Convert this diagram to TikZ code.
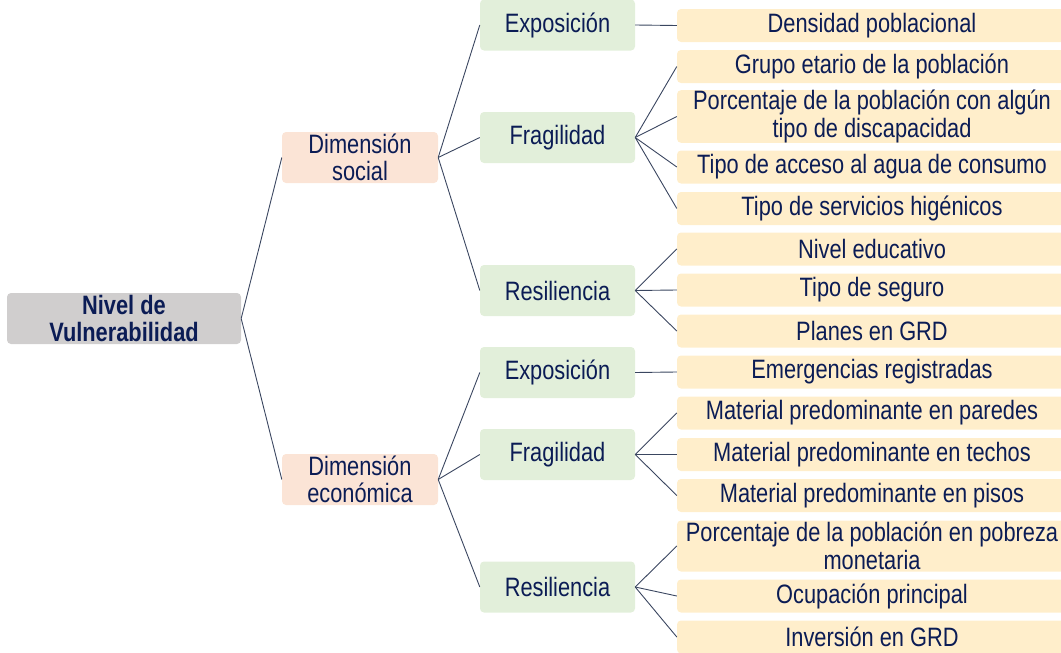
\documentclass[tikz,border=0pt]{standalone}
\usepackage{fontspec}
\setmainfont[FakeStretch=0.82]{Liberation Sans}
\usepackage{tikz}
\usetikzlibrary{positioning}
\definecolor{VulnNavy}{HTML}{0B1C55}
\definecolor{VulnGrey}{HTML}{D0CECE}
\definecolor{VulnPeach}{HTML}{FBE4D6}
\definecolor{VulnGreen}{HTML}{E2EFDA}
\definecolor{VulnBeige}{HTML}{FFEECB}
\definecolor{VulnLine}{HTML}{3A4660}
\tikzset{
    % Base node style
    basenode/.style={
        rounded corners=4pt,
        inner sep=0pt,
        align=center,
        text=VulnNavy,
        font=\fontsize{26.6}{27.5}\selectfont
    },
    % Root node
    rootnode/.style={
        basenode,
        fill=VulnGrey,
        minimum width=234pt,
        minimum height=51pt,
        font=\fontsize{26.6}{27.5}\selectfont\bfseries
    },
    % Dimension node
    dimnode/.style={
        basenode,
        fill=VulnPeach,
        minimum width=156pt,
        minimum height=51pt
    },
    % Component node
    compnode/.style={
        basenode,
        fill=VulnGreen,
        minimum width=155pt,
        minimum height=51pt
    },
    % Indicator node
    indnode/.style={
        basenode,
        fill=VulnBeige,
        minimum width=390pt,
        minimum height=33pt
    },
    % Connector
    link/.style={
        draw=VulnLine,
        line width=0.9pt
    }
}
\begin{document}
\begin{tikzpicture}[x=1pt, y=-1pt]
    \useasboundingbox (0,0) rectangle (1061,653);

    % Root
    \node[rootnode] (root) at (124,318.5) {Nivel de\\Vulnerabilidad};

    % Dimensions
    \node[dimnode] (dsoc) at (360,157.5) {Dimensión\\social};
    \node[dimnode] (deco) at (360,479.5) {Dimensión\\económica};

    % Components, social
    \node[compnode] (sexp) at (557.5,25) {Exposición};
    \node[compnode] (sfra) at (557.5,137.5) {Fragilidad};
    \node[compnode] (sres) at (557.5,290.5) {Resiliencia};

    % Components, economic
    \node[compnode] (eexp) at (557.5,372.5) {Exposición};
    \node[compnode] (efra) at (557.5,454.5) {Fragilidad};
    \node[compnode] (eres) at (557.5,587) {Resiliencia};

    % Indicators, social
    \node[indnode] (i1) at (872,25.5) {Densidad poblacional};
    \node[indnode] (i2) at (872,66.5) {Grupo etario de la población};
    \node[indnode, minimum height=51pt] (i3) at (872,116.5) {Porcentaje de la población con algún\\tipo de discapacidad};
    \node[indnode] (i4) at (872,167) {Tipo de acceso al agua de consumo};
    \node[indnode] (i5) at (872,208.5) {Tipo de servicios higénicos};
    \node[indnode] (i6) at (872,249) {Nivel educativo};
    \node[indnode] (i7) at (872,290) {Tipo de seguro};
    \node[indnode] (i8) at (872,331) {Planes en GRD};

    % Indicators, economic
    \node[indnode] (i9) at (872,372) {Emergencias registradas};
    \node[indnode] (i10) at (872,413) {Material predominante en paredes};
    \node[indnode] (i11) at (872,454.5) {Material predominante en techos};
    \node[indnode] (i12) at (872,495.5) {Material predominante en pisos};
    \node[indnode, minimum height=51pt] (i13) at (872,546) {Porcentaje de la población en pobreza\\monetaria};
    \node[indnode] (i14) at (872,596) {Ocupación principal};
    \node[indnode] (i15) at (872,637) {Inversión en GRD};

    % Connectors
    \draw[link] (root.east) -- (dsoc.west);
    \draw[link] (root.east) -- (deco.west);
    \draw[link] (dsoc.east) -- (sexp.west);
    \draw[link] (dsoc.east) -- (sfra.west);
    \draw[link] (dsoc.east) -- (sres.west);
    \draw[link] (deco.east) -- (eexp.west);
    \draw[link] (deco.east) -- (efra.west);
    \draw[link] (deco.east) -- (eres.west);
    \draw[link] (sexp.east) -- (i1.west);
    \draw[link] (sfra.east) -- (i2.west);
    \draw[link] (sfra.east) -- (i3.west);
    \draw[link] (sfra.east) -- (i4.west);
    \draw[link] (sfra.east) -- (i5.west);
    \draw[link] (sres.east) -- (i6.west);
    \draw[link] (sres.east) -- (i7.west);
    \draw[link] (sres.east) -- (i8.west);
    \draw[link] (eexp.east) -- (i9.west);
    \draw[link] (efra.east) -- (i10.west);
    \draw[link] (efra.east) -- (i11.west);
    \draw[link] (efra.east) -- (i12.west);
    \draw[link] (eres.east) -- (i13.west);
    \draw[link] (eres.east) -- (i14.west);
    \draw[link] (eres.east) -- (i15.west);
\end{tikzpicture}
\end{document}
